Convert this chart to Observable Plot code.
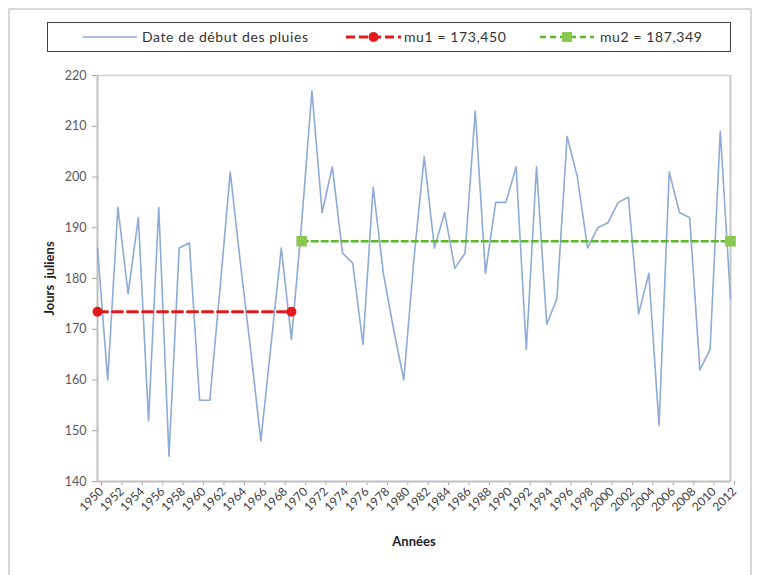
<!DOCTYPE html>
<html>
<head>
<meta charset="utf-8">
<script src="https://cdn.jsdelivr.net/npm/d3@7"></script>
<script src="https://cdn.jsdelivr.net/npm/@observablehq/plot@0.6"></script>
<style>
  html, body { margin: 0; padding: 0; background: #fff; }
  body { width: 759px; height: 575px; position: relative; overflow: hidden; font-family: Lato, "Open Sans", sans-serif; }
  #frame { position: absolute; left: 8px; top: 8px; width: 744px; height: 580px; border: 2px solid #d9d9d9; box-sizing: border-box; }
  #chart { position: absolute; left: 0; top: 0; }
  #legend { position: absolute; left: 47px; top: 22px; width: 684px; height: 30px; border: 1.5px solid #404040; box-sizing: border-box; background: #fff; }
  #legend .it { position: absolute; top: 0; height: 27px; display: flex; align-items: center; font-size: 14px; letter-spacing: 0.6px; color: #333; white-space: nowrap; }
  #legend svg { display: block; }
  #chart text { font-family: Lato, "Open Sans", sans-serif; }
  #chart [aria-label="x-axis label"] text, #chart [aria-label="y-axis label"] text { font-weight: bold; fill: #222; font-size: 13px; }
</style>
</head>
<body>
<div id="frame"></div>
<div id="chart"></div>
<div id="legend">
  <div class="it" style="left:35px"><svg width="54" height="10"><line x1="0" y1="5" x2="54" y2="5" stroke="#8eaad6" stroke-width="1.5"/></svg><span style="margin-left:5px">Date de début des pluies</span></div>
  <div class="it" style="left:298px"><svg width="55" height="12"><line x1="0" y1="6" x2="55" y2="6" stroke="#e31a1c" stroke-width="3" stroke-dasharray="9,4"/><circle cx="27.5" cy="6" r="5" fill="#e31a1c"/></svg><span style="margin-left:3px">mu1 = 173,450</span></div>
  <div class="it" style="left:492px"><svg width="54" height="12"><line x1="0" y1="6" x2="54" y2="6" stroke="#5cb82a" stroke-width="2.5" stroke-dasharray="6,4"/><rect x="22" y="1" width="10" height="10" fill="#8cc751"/></svg><span style="margin-left:6px">mu2 = 187,349</span></div>
</div>
<script>
const years = d3.range(1950, 2013);
const values = [
  186, 160, 194, 177, 192, 152, 194, 145, 186, 187,
  156, 156, 178, 201, 183, 166, 148, 167, 186, 168,
  191, 217, 193, 202, 185, 183, 167, 198, 181, 170,
  160, 184, 204, 186, 193, 182, 185, 213, 181, 195,
  195, 202, 166, 202, 171, 176, 208, 200, 186, 190,
  191, 195, 196, 173, 181, 151, 201, 193, 192, 162,
  166, 209, 176
];
const mu1Years = [1950, 1969];
const mu1Value = 173.450;
const mu2Years = [1970, 2012];
const mu2Value = 187.349;
const xTicks = d3.range(1950, 2013, 2);
const yTicks = [140, 150, 160, 170, 180, 190, 200, 210, 220];

const data = years.map((y, i) => ({year: y, value: values[i]}));
const mu1 = mu1Years.map(y => ({year: y, value: mu1Value}));
const mu2 = mu2Years.map(y => ({year: y, value: mu2Value}));

const chart = Plot.plot({
  width: 759,
  height: 575,
  marginLeft: 97,
  marginRight: 29,
  marginTop: 75,
  marginBottom: 94,
  style: {fontFamily: "Lato, 'Open Sans', sans-serif", fontSize: "12px", background: "transparent", overflow: "visible"},
  x: {domain: [1950, 2012]},
  y: {domain: [140, 220]},
  marks: [
    Plot.ruleY([220], {stroke: "#d0d0d0", strokeWidth: 1.5}),
    Plot.ruleX([2012], {stroke: "#c8c8c8", strokeWidth: 2}),
    Plot.axisY({ticks: yTicks, tickSize: 5, tickPadding: 6, stroke: "#a6a6a6", fill: "#595959", fontSize: 12.5,
      label: "Jours  juliens", labelAnchor: "center", labelOffset: 53, labelArrow: "none"}),
    Plot.axisX({ticks: xTicks, tickFormat: d => String(d), tickRotate: -45, tickSize: 4, tickPadding: 4,
      stroke: "#a6a6a6", fill: "#404040", fontSize: 12, dx: 4,
      label: "Années", labelAnchor: "center", labelOffset: 64, labelArrow: "none"}),
    Plot.ruleX([1950], {stroke: "#bfbfbf", strokeWidth: 2}),
    Plot.ruleY([140], {stroke: "#bfbfbf", strokeWidth: 2}),
    Plot.line(data, {x: "year", y: "value", stroke: "#8eaad6", strokeWidth: 1.6}),
    Plot.line(mu1, {x: "year", y: "value", stroke: "#e31a1c", strokeWidth: 3, strokeDasharray: "10,5"}),
    Plot.dot(mu1, {x: "year", y: "value", r: 5, fill: "#e31a1c"}),
    Plot.line(mu2, {x: "year", y: "value", stroke: "#5cb82a", strokeWidth: 2.5, strokeDasharray: "6,4"}),
    Plot.dot(mu2, {x: "year", y: "value", symbol: "square", r: 6, fill: "#8cc751"})
  ]
});
document.getElementById("chart").appendChild(chart);
</script>
</body>
</html>
